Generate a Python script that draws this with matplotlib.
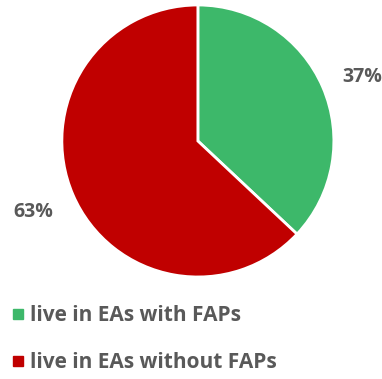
import matplotlib
matplotlib.use("Agg")
import matplotlib.pyplot as plt
from matplotlib.lines import Line2D

# ── data ──────────────────────────────────────────────────────────────────────
labels = ["live in EAs with FAPs", "live in EAs without FAPs"]
shares = [37, 63]
colors = ["#3DB86A", "#C00000"]

TEXT = "#595959"
plt.rcParams["font.family"] = ["Open Sans", "DejaVu Sans"]

fig = plt.figure(figsize=(3.82, 3.79), dpi=100)
ax = fig.add_axes([0.162, 0.269, 0.712, 0.718])

wedges, _ = ax.pie(
    shares, colors=colors, startangle=90, counterclock=False,
    wedgeprops=dict(edgecolor="white", linewidth=2),
)
ax.set_xlim(-1, 1)
ax.set_ylim(-1, 1)
ax.set_aspect("equal")

# percentage labels outside the slices
ax.text(1.21, 0.47, f"{shares[0]}%", ha="center", va="center",
        fontsize=14, fontweight="bold", color=TEXT)
ax.text(-1.21, -0.52, f"{shares[1]}%", ha="center", va="center",
        fontsize=14, fontweight="bold", color=TEXT)

handles = [Line2D([], [], marker="s", linestyle="", markersize=7,
                  markerfacecolor=c, markeredgecolor=c) for c in colors]
fig.legend(handles, labels, loc="upper left", bbox_to_anchor=(-0.03, 0.245),
           frameon=False, labelcolor=TEXT, handletextpad=0.1,
           labelspacing=1.25, handlelength=1.0, prop=dict(weight="bold", size=15))

fig.savefig("out.png", dpi=100)
